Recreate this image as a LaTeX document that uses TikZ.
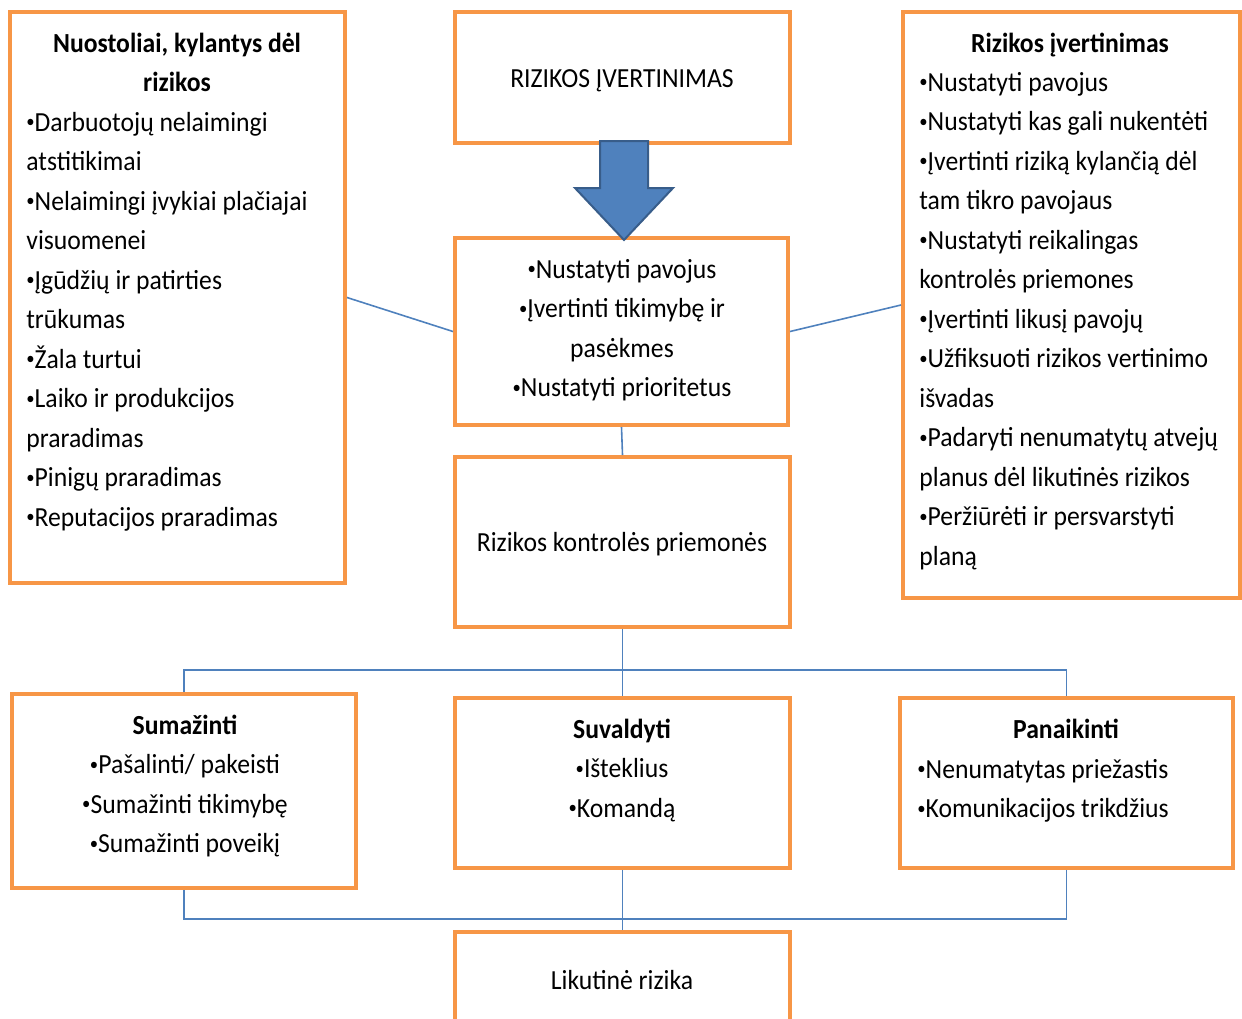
\documentclass[tikz,border=0pt]{standalone}
\usepackage{fontspec}
\setmainfont{Carlito}[FakeStretch=0.93]
\usepackage{xcolor}
\usepackage{graphicx}
\usetikzlibrary{fit}

\definecolor{boxorange}{HTML}{F79646}
\definecolor{linkblue}{HTML}{4F81BD}
\definecolor{arrowedge}{HTML}{385D8A}

\newcommand{\bul}{\raisebox{0.25ex}{\scalebox{0.65}{•}}}

\tikzset{
  riskbox/.style={draw=boxorange, line width=2pt, inner sep=0pt},
  link/.style={draw=linkblue, line width=0.8pt},
  boxtext/.style={inner sep=0pt, font=\fontsize{13.8}{19.75}\selectfont},
}

\begin{document}
\begin{tikzpicture}[x=0.5pt, y=-0.5pt]
            \useasboundingbox (0,0) rectangle (1242,1018);
            % boxes
            \node[riskbox, fit={(10,12) (345,583)}] (loss) {};
            \node[riskbox, fit={(455,12) (790,143)}] (head) {};
            \node[riskbox, fit={(903,12) (1240,598)}] (steps) {};
            \node[riskbox, fit={(455,238) (788,425)}] (assess) {};
            \node[riskbox, fit={(455,457) (790,627)}] (control) {};
            \node[riskbox, fit={(12,694) (356,888)}] (reduce) {};
            \node[riskbox, fit={(455,698) (790,868)}] (handle) {};
            \node[riskbox, fit={(900,698) (1233,868)}] (remove) {};
            \node[riskbox, fit={(455,932) (790,1060)}] (residual) {};

            % texts
            \node[boxtext, anchor=north, align=center, font=\fontsize{13.8}{19.75}\selectfont\bfseries] (lossT) at (177,24) {\strut Nuostoliai, kylantys dėl\\rizikos};
            \node[boxtext, anchor=north west, align=left] (lossL) at (26,103) {\strut\bul Darbuotojų nelaimingi\\atstitikimai\\\bul Nelaimingi įvykiai plačiajai\\visuomenei\\\bul Įgūdžių ir patirties\\trūkumas\\\bul Žala turtui\\\bul Laiko ir produkcijos\\praradimas\\\bul Pinigų praradimas\\\bul Reputacijos praradimas};
            \node[boxtext, anchor=base] (headT) at (622,87) {RIZIKOS ĮVERTINIMAS};
            \node[boxtext, anchor=north, font=\fontsize{13.8}{19.75}\selectfont\bfseries] (stepsT) at (1070,24) {\strut Rizikos įvertinimas};
            \node[boxtext, anchor=north west, align=left] (stepsL) at (919,63) {\strut\bul Nustatyti pavojus\\\bul Nustatyti kas gali nukentėti\\\bul Įvertinti riziką kylančią dėl\\tam tikro pavojaus\\\bul Nustatyti reikalingas\\kontrolės priemones\\\bul Įvertinti likusį pavojų\\\bul Užfiksuoti rizikos vertinimo\\išvadas\\\bul Padaryti nenumatytų atvejų\\planus dėl likutinės rizikos\\\bul Peržiūrėti ir persvarstyti\\planą};
            \node[boxtext, anchor=north, align=center] (assessL) at (622,250) {\strut\bul Nustatyti pavojus\\\bul Įvertinti tikimybę ir\\pasėkmes\\\bul Nustatyti prioritetus};
            \node[boxtext, anchor=base] (controlT) at (622,551) {Rizikos kontrolės priemonės};
            \node[boxtext, anchor=north, align=center] (reduceL) at (185,706) {\strut\textbf{Sumažinti}\\\bul Pašalinti/ pakeisti\\\bul Sumažinti tikimybę\\\bul Sumažinti poveikį};
            \node[boxtext, anchor=north, align=center] (handleL) at (622,710) {\strut\textbf{Suvaldyti}\\\bul Išteklius\\\bul Komandą};
            \node[boxtext, anchor=north, font=\fontsize{13.8}{19.75}\selectfont\bfseries] (removeT) at (1066,710) {\strut Panaikinti};
            \node[boxtext, anchor=north west, align=left] (removeL) at (917,750) {\strut\bul Nenumatytas priežastis\\\bul Komunikacijos trikdžius};
            \node[boxtext, anchor=base] (residualT) at (622,989) {Likutinė rizika};

            % block arrow
            \filldraw[fill=linkblue, draw=arrowedge, line width=1pt] (600,141) -- (648,141) -- (648,188) -- (673,188) -- (624,240) -- (575,188) -- (600,188) -- cycle;

            % connectors
            \coordinate (splitT) at (622,670);
            \coordinate (joinB) at (622,919);
            \draw[link] (loss.east) -- (assess.west);
            \draw[link] (assess.east) -- (steps.west);
            \draw[link] (assess.south) -- (control.north);
            \draw[link] (control.south) -- (handle.north);
            \draw[link] (reduce.north) -- (reduce.north |- splitT) -- (remove.north |- splitT) -- (remove.north);
            \draw[link] (reduce.south) -- (reduce.south |- joinB) -- (remove.south |- joinB) -- (remove.south);
            \draw[link] (handle.south) -- (residual.north);
\end{tikzpicture}
\end{document}
